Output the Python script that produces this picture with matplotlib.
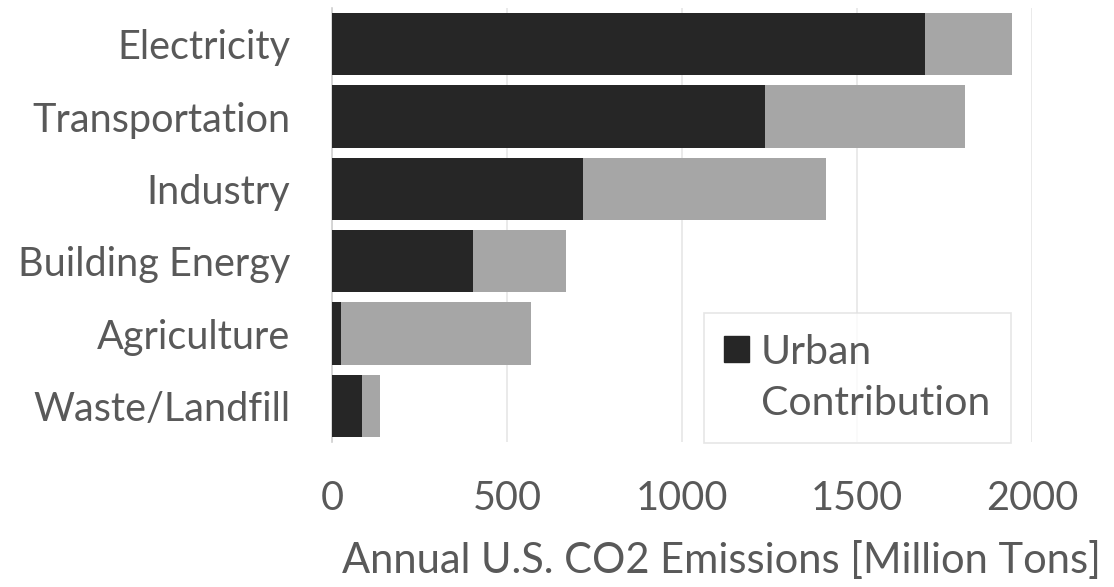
import numpy as np
import matplotlib.pyplot as plt
from matplotlib.patches import Patch

# sectors, top to bottom
sectors = ["Electricity", "Transportation", "Industry",
           "Building Energy", "Agriculture", "Waste/Landfill"]
# million tons CO2 per year
urban = [1695, 1237, 716, 403, 26, 87]
total = [1943, 1809, 1410, 668, 568, 137]

DARK = "#262626"
LIGHT = "#a6a6a6"
TEXT = "#595959"

plt.rcParams["font.family"] = ["Lato", "DejaVu Sans"]

fig = plt.figure(figsize=(11.14, 5.87), dpi=100)
ax = fig.add_axes([332 / 1114, 145 / 587, 700 / 1114, 434 / 587])

y = np.arange(len(sectors))
rest = np.array(total) - np.array(urban)

ax.barh(y, urban, height=0.86, color=DARK, zorder=3)
ax.barh(y, rest, left=urban, height=0.86, color=LIGHT, zorder=3)

ax.set_ylim(len(sectors) - 0.5, -0.5)
ax.set_xlim(0, 2000)
ax.set_xticks([0, 500, 1000, 1500, 2000])
ax.set_yticks(y, sectors)

ax.grid(axis="x", color="#e6e6e6", linewidth=1.2, zorder=0)
for side in ["top", "right", "bottom"]:
    ax.spines[side].set_visible(False)
ax.spines["left"].set_color("#d0d0d0")
ax.spines["left"].set_linewidth(1.2)

ax.tick_params(axis="both", length=0, colors=TEXT, labelsize=28.5)
ax.tick_params(axis="y", pad=30)
ax.tick_params(axis="x", pad=27)

ax.set_xlabel("Annual U.S. CO2 Emissions [Million Tons]", fontsize=30,
              color=TEXT)
ax.xaxis.set_label_coords(0.557, -0.228)

# square marker sits next to the first line only
handles = [Patch(facecolor=DARK, edgecolor=DARK),
           Patch(facecolor="none", edgecolor="none")]
leg = ax.legend(handles, ["Urban", "Contribution"], loc="lower left",
                bbox_to_anchor=(0.531, -0.002), borderaxespad=0,
                fontsize=29.5, frameon=True, fancybox=False,
                handlelength=0.6, handleheight=0.6, handletextpad=0.3,
                borderpad=0.5, labelspacing=0.36)
leg.get_frame().set_edgecolor("#e0e0e0")
leg.get_frame().set_linewidth(1.2)
for t in leg.get_texts():
    t.set_color(TEXT)
leg.set_zorder(5)

fig.savefig("out.png", dpi=100)
